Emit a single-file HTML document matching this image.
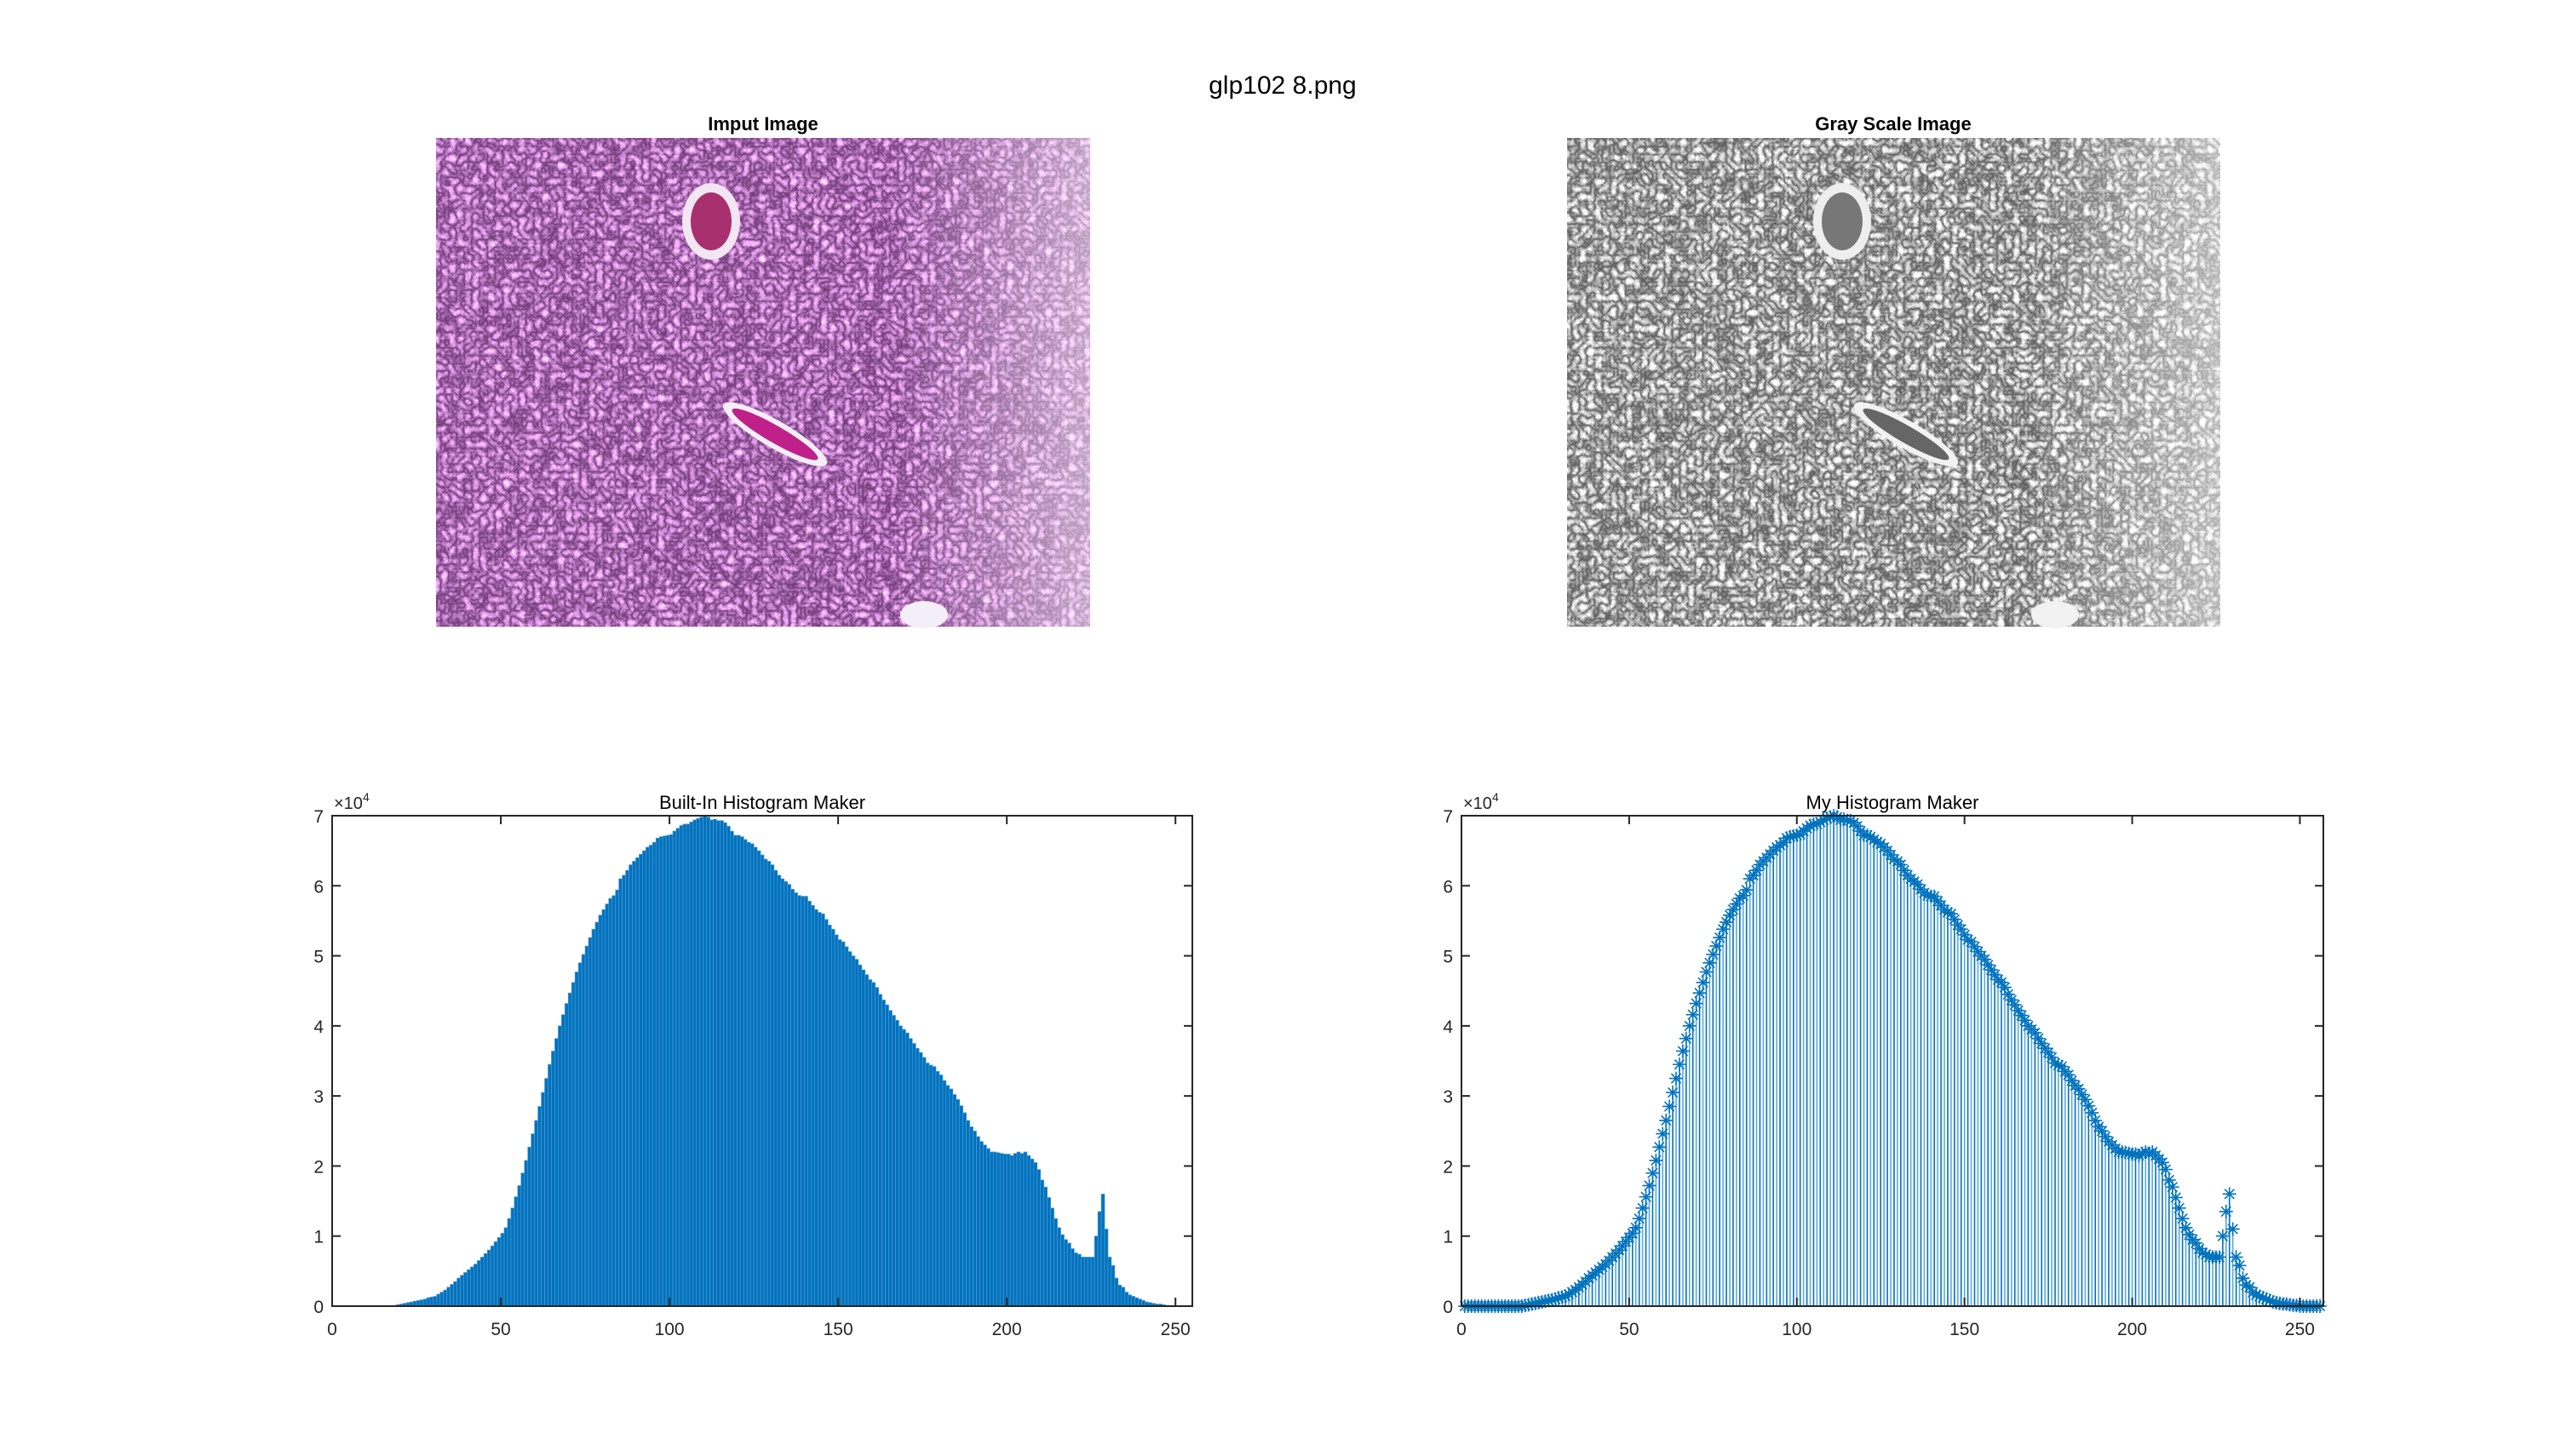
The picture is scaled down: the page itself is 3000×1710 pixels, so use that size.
<!DOCTYPE html>
<html><head><meta charset="utf-8"><style>
html,body{margin:0;padding:0;background:#fff}
svg{display:block;font-family:"Liberation Sans",Arial,sans-serif}
</style></head><body>
<svg id="fig" width="3000" height="1710" viewBox="0 0 3000 1710">
<defs>
<filter id="purp" x="0" y="0" width="100%" height="100%" color-interpolation-filters="sRGB">
<feTurbulence type="turbulence" baseFrequency="0.11" numOctaves="2" seed="3"/>
<feColorMatrix type="matrix" values="1.0 0 0 0 0.42  0.9 0 0 0 0.2  1.0 0 0 0 0.45  0 0 0 0 1"/>
</filter>
<filter id="gray" x="0" y="0" width="100%" height="100%" color-interpolation-filters="sRGB">
<feTurbulence type="turbulence" baseFrequency="0.11" numOctaves="2" seed="3"/>
<feColorMatrix type="matrix" values="1.2 0 0 0 0.33  1.2 0 0 0 0.33  1.2 0 0 0 0.33  0 0 0 0 1"/>
</filter>
<linearGradient id="lightR" x1="0" x2="1" y1="0" y2="0">
<stop offset="0.7" stop-color="#fff" stop-opacity="0"/>
<stop offset="1" stop-color="#fff" stop-opacity="0.5"/>
</linearGradient>
</defs>
<rect width="3000" height="1710" fill="#fff"/>
<text x="1506" y="110" font-size="30" text-anchor="middle">glp102 8.png</text>

<g>
<text x="896" y="153" font-size="22" font-weight="bold" text-anchor="middle">Imput Image</text>
<rect x="512" y="162" width="768" height="574" filter="url(#purp)"/>
<rect x="512" y="162" width="768" height="574" fill="url(#lightR)"/>
<ellipse cx="835" cy="260" rx="34" ry="45" fill="#f1e6f2"/>
<ellipse cx="835" cy="260" rx="24" ry="34" fill="#a8306e"/>
<ellipse cx="910" cy="510" rx="70" ry="16" transform="rotate(30 910 510)" fill="#f4eef5"/>
<ellipse cx="910" cy="510" rx="58" ry="10" transform="rotate(30 910 510)" fill="#c0208a"/>
<ellipse cx="1085" cy="722" rx="28" ry="16" fill="#f4eef8"/>
</g>

<g>
<text x="2223" y="153" font-size="22" font-weight="bold" text-anchor="middle">Gray Scale Image</text>
<rect x="1840" y="162" width="767" height="574" filter="url(#gray)"/>
<rect x="1840" y="162" width="767" height="574" fill="url(#lightR)"/>
<ellipse cx="2163" cy="260" rx="34" ry="45" fill="#eee"/>
<ellipse cx="2163" cy="260" rx="24" ry="34" fill="#777"/>
<ellipse cx="2238" cy="510" rx="70" ry="16" transform="rotate(30 2238 510)" fill="#f2f2f2"/>
<ellipse cx="2238" cy="510" rx="58" ry="10" transform="rotate(30 2238 510)" fill="#666"/>
<ellipse cx="2413" cy="722" rx="28" ry="16" fill="#f2f2f2"/>
</g>
<g id="plots"></g>
</svg>
<script>
// histogram counts (units of 1e4), gray levels 0..255
const counts = [
0,0,0,0,0,0,0,0,0,0,0,0,0,0,0,0,0,0,
0.01,0.02,0.03,0.04,0.05,0.06,0.07,0.08,0.09,0.10,0.12,0.13,
0.14,0.17,0.2,0.23,0.27,0.31,0.35,0.4,0.44,0.48,
0.52,0.56,0.6,0.65,0.7,0.75,0.8,0.86,0.92,0.98,
1.04,1.12,1.25,1.4,1.56,1.72,1.9,2.08,2.27,2.46,
2.65,2.85,3.05,3.25,3.45,3.64,3.82,4.0,4.16,4.32,
4.47,4.62,4.77,4.9,5.02,5.14,5.26,5.38,5.48,5.58,
5.66,5.74,5.82,5.86,5.94,6.1,6.15,6.22,6.3,6.35,
6.4,6.45,6.5,6.55,6.58,6.62,6.68,6.7,6.71,6.72,
6.73,6.78,6.82,6.86,6.88,6.88,6.91,6.94,6.96,6.98,
7.0,6.98,6.94,6.95,6.93,6.93,6.9,6.85,6.78,6.72,
6.72,6.7,6.66,6.62,6.6,6.55,6.5,6.44,6.38,6.35,
6.3,6.22,6.15,6.1,6.06,6.02,5.95,5.9,5.86,5.85,
5.85,5.78,5.72,5.66,5.62,5.6,5.52,5.44,5.38,5.3,
5.23,5.2,5.13,5.06,5.0,4.95,4.87,4.8,4.73,4.66,
4.62,4.55,4.45,4.37,4.3,4.22,4.15,4.08,4.0,3.95,
3.9,3.82,3.75,3.68,3.62,3.55,3.47,3.44,3.42,3.35,
3.3,3.22,3.15,3.1,3.02,2.95,2.86,2.76,2.65,2.56,
2.5,2.42,2.35,2.3,2.25,2.2,2.2,2.19,2.18,2.17,
2.17,2.15,2.18,2.2,2.18,2.2,2.15,2.1,2.05,1.95,
1.8,1.7,1.55,1.4,1.25,1.12,1.02,0.95,0.9,0.82,
0.76,0.74,0.7,0.7,0.7,0.7,1.0,1.35,1.6,1.1,
0.7,0.58,0.4,0.3,0.27,0.2,0.16,0.14,0.12,0.1,
0.08,0.06,0.05,0.04,0.03,0.03,0.02,0.01,0.01,0.0,
0,0,0,0,0,0];
const xTicks = [0,50,100,150,200,250];
const yTicks = [0,1,2,3,4,5,6,7];

const NS = 'http://www.w3.org/2000/svg';
const root = document.getElementById('plots');
function mk(tag, attrs, parent){ const e=document.createElementNS(NS,tag); for(const k in attrs) e.setAttribute(k,attrs[k]); (parent||root).appendChild(e); return e; }

function axes(L,R,T,B,xmax,title,kind){
  const g = mk('g',{});
  
  
  const sx = v => L + v/xmax*(R-L);
  const sy = v => B - v/7*(B-T);
  const marks = mk('g',{},g);
  if(kind==='builtin-histogram'){
    counts.forEach((c,i)=>{
      if(c<=0) return;
      const r = mk('rect',{x:sx(i),y:sy(c),width:sx(i+1)-sx(i),height:B-sy(c),fill:'#0072BD',stroke:'#4d9bd4','stroke-width':0.7},marks);
      
      
    });
  } else {
    counts.forEach((c,i)=>{
      const x = sx(i+1), y = sy(c);
      const s = mk('line',{x1:x,y1:B,x2:x,y2:y,stroke:(i%2?'#5fa8dc':'#0072BD'),'stroke-width':1.6},marks);
      
      
    });
    counts.forEach((c,i)=>{
      const x = sx(i+1), y = sy(c), m=8;
      const p = mk('path',{d:`M${x-m} ${y}H${x+m}M${x} ${y-m}V${y+m}M${x-m*0.7} ${y-m*0.7}L${x+m*0.7} ${y+m*0.7}M${x-m*0.7} ${y+m*0.7}L${x+m*0.7} ${y-m*0.7}`,stroke:'#0072BD','stroke-width':1.6,fill:'none'},marks);
      
      
    });
  }
  mk('rect',{x:L,y:T,width:R-L,height:B-T,fill:'none',stroke:'#262626','stroke-width':2},g);
  xTicks.forEach(t=>{
    const x=sx(t);
    mk('line',{x1:x,y1:B,x2:x,y2:B-10,stroke:'#262626','stroke-width':2},g);
    mk('line',{x1:x,y1:T,x2:x,y2:T+10,stroke:'#262626','stroke-width':2},g);
    const tx = mk('text',{x:x,y:B+34,'font-size':21,'text-anchor':'middle',fill:'#262626'},g);
    tx.textContent = t;
    
    
  });
  yTicks.forEach(t=>{
    const y=sy(t);
    mk('line',{x1:L,y1:y,x2:L+10,y2:y,stroke:'#262626','stroke-width':2},g);
    mk('line',{x1:R,y1:y,x2:R-10,y2:y,stroke:'#262626','stroke-width':2},g);
    const ty = mk('text',{x:L-10,y:y+8,'font-size':21,'text-anchor':'end',fill:'#262626'},g);
    ty.textContent = t;
    
    
  });
  const ex = mk('text',{x:L+2,y:T-8,'font-size':20,fill:'#262626'},g);
  ex.innerHTML = '×10<tspan dy="-9" font-size="14">4</tspan>';
  
  
  const ti = mk('text',{x:(L+R)/2,y:T-8,'font-size':22,'text-anchor':'middle',fill:'#000'},g);
  ti.textContent = title;
  
  
}
axes(390,1400,958,1534,255,'Built-In Histogram Maker','builtin-histogram');
axes(1716,2728,958,1534,257,'My Histogram Maker','my-histogram');
</script>
</body></html>
